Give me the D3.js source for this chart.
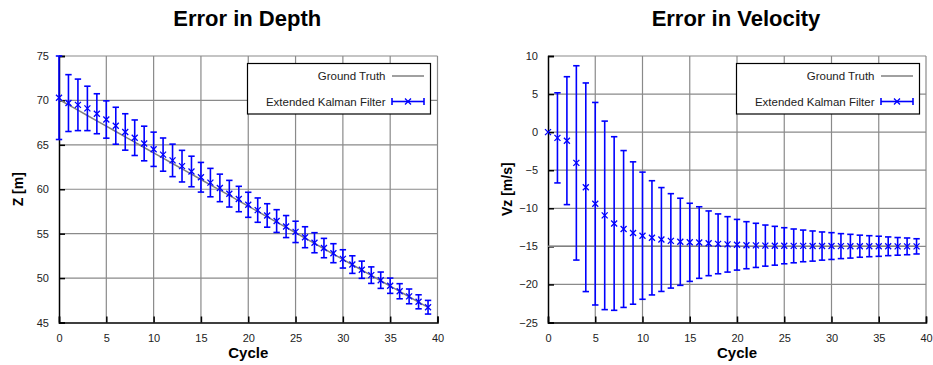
<!DOCTYPE html>
<html>
<head>
<meta charset="utf-8">
<script src="https://cdn.jsdelivr.net/npm/d3@7"></script>
<style>
  html, body { margin: 0; padding: 0; background: #fff; }
  svg { display: block; font-family: "Liberation Sans", Arial, sans-serif; }
</style>
</head>
<body>
<svg id="chart" width="933" height="365"></svg>
<script>
// Cycle index shared by both panels
const cycles = d3.range(0, 40);

// Depth: ground truth, filter estimate and its error half-width
const depthTruth = [70.1, 69.5, 68.9, 68.3, 67.7, 67.1, 66.5, 65.9, 65.3, 64.7,
  64.1, 63.5, 62.9, 62.3, 61.7, 61.1, 60.5, 59.9, 59.3, 58.7,
  58.1, 57.5, 56.9, 56.3, 55.7, 55.1, 54.5, 53.9, 53.3, 52.7,
  52.1, 51.5, 50.9, 50.3, 49.7, 49.1, 48.5, 47.9, 47.3, 46.7];
const depthEst = [70.3, 69.7, 69.5, 69.1, 68.5, 67.85, 67.15, 66.45, 65.8, 65.15,
  64.5, 63.9, 63.25, 62.6, 62.0, 61.35, 60.75, 60.15, 59.5, 58.9,
  58.25, 57.65, 57.05, 56.42, 55.8, 55.2, 54.6, 53.98, 53.38, 52.8,
  52.16, 51.52, 50.94, 50.33, 49.76, 49.14, 48.52, 47.94, 47.33, 46.72];
const depthErr = [4.7, 3.2, 2.9, 2.5, 2.25, 2.1, 2.08, 2.05, 2.0, 1.95,
  1.93, 1.87, 1.83, 1.78, 1.72, 1.67, 1.6, 1.55, 1.5, 1.43,
  1.41, 1.37, 1.32, 1.28, 1.24, 1.2, 1.18, 1.13, 1.09, 1.07,
  1.03, 0.99, 0.97, 0.93, 0.92, 0.86, 0.85, 0.83, 0.79, 0.77];

// Vertical velocity: ground truth, filter estimate and its error half-width
const velTruth = [-15, -15, -15, -15, -15, -15, -15, -15, -15, -15,
  -15, -15, -15, -15, -15, -15, -15, -15, -15, -15,
  -15, -15, -15, -15, -15, -15, -15, -15, -15, -15,
  -15, -15, -15, -15, -15, -15, -15, -15, -15, -15];
const velEst = [0.0, -0.75, -1.12, -4.04, -7.24, -9.4, -10.93, -12.0, -12.72, -13.25,
  -13.6, -13.88, -14.1, -14.28, -14.4, -14.47, -14.5, -14.6, -14.67, -14.74,
  -14.79, -14.85, -14.87, -14.9, -14.92, -14.92, -14.94, -14.94, -14.96, -14.96,
  -14.96, -14.97, -14.98, -14.98, -14.98, -14.99, -14.99, -15.0, -15.0, -15.0];
const velErr = [0.0, 5.92, 8.4, 12.76, 13.7, 13.3, 12.38, 11.4, 10.3, 9.35,
  8.35, 7.5, 6.82, 6.2, 5.72, 5.13, 4.7, 4.25, 3.93, 3.64,
  3.33, 3.09, 2.9, 2.7, 2.55, 2.37, 2.22, 2.08, 1.98, 1.85,
  1.76, 1.64, 1.56, 1.45, 1.38, 1.32, 1.23, 1.16, 1.1, 1.0];

// Axis tick values
const xTicks = [0, 5, 10, 15, 20, 25, 30, 35, 40];
const depthTicks = [45, 50, 55, 60, 65, 70, 75];
const velTicks = [-25, -20, -15, -10, -5, 0, 5, 10];

const legendLabels = ["Ground Truth", "Extended Kalman Filter"];

const svg = d3.select("#chart");

function panel(cfg) {
  const { left, right, top, bottom, yDomain, yTicks, title, yLabel, truth, est, err, legendX } = cfg;
  const x = d3.scaleLinear().domain([0, 40]).range([left, right]);
  const y = d3.scaleLinear().domain(yDomain).range([bottom, top]);
  const g = svg.append("g");

  // grid
  g.append("g").selectAll("line").data(xTicks.slice(1)).join("line")
    .attr("x1", d => x(d)).attr("x2", d => x(d))
    .attr("y1", top).attr("y2", bottom)
    .attr("stroke", "#8a8a8a").attr("stroke-width", 1.2);
  g.append("g").selectAll("line").data(yTicks.slice(1)).join("line")
    .attr("x1", left).attr("x2", right)
    .attr("y1", d => y(d)).attr("y2", d => y(d))
    .attr("stroke", "#8a8a8a").attr("stroke-width", 1.2);

  // axes (ticks pointing into the plot)
  const xAxis = d3.axisBottom(x).tickValues(xTicks).tickSize(-6).tickPadding(12).tickFormat(d3.format("d"));
  const yAxis = d3.axisLeft(y).tickValues(yTicks).tickSize(-6).tickPadding(10).tickFormat(d => d < 0 ? "\u2212" + Math.abs(d) : d);
  const gx = g.append("g").attr("transform", `translate(0,${bottom})`).call(xAxis);
  const gy = g.append("g").attr("transform", `translate(${left},0)`).call(yAxis);
  [gx, gy].forEach(a => {
    a.select(".domain").attr("stroke", "#000").attr("stroke-width", 1.5);
    a.selectAll(".tick line").attr("stroke", "#000").attr("stroke-width", 1.5);
    a.selectAll(".tick text").attr("font-size", 11).attr("fill", "#222")
      .attr("font-family", "Liberation Sans, Arial, sans-serif");
  });

  // ground truth line
  g.append("path").datum(cycles)
    .attr("fill", "none").attr("stroke", "#808080").attr("stroke-width", 1.5)
    .attr("d", d3.line().x(i => x(i)).y(i => y(truth[i])));

  // error bars
  const bars = g.append("g").attr("stroke", "#0000ff").attr("stroke-width", 1.6).attr("fill", "none");
  const withErr = cycles.filter(i => err[i] > 0);
  bars.selectAll("line.v").data(withErr).join("line").attr("class", "v")
    .attr("x1", i => x(i)).attr("x2", i => x(i))
    .attr("y1", i => y(est[i] + err[i])).attr("y2", i => y(est[i] - err[i]));
  bars.selectAll("line.t").data(withErr).join("line").attr("class", "t")
    .attr("x1", i => x(i) - 3.2).attr("x2", i => x(i) + 3.2)
    .attr("y1", i => y(est[i] + err[i])).attr("y2", i => y(est[i] + err[i]));
  bars.selectAll("line.b").data(withErr).join("line").attr("class", "b")
    .attr("x1", i => x(i) - 3.2).attr("x2", i => x(i) + 3.2)
    .attr("y1", i => y(est[i] - err[i])).attr("y2", i => y(est[i] - err[i]));

  // estimate markers
  const s = 3;
  bars.selectAll("path.m").data(cycles).join("path").attr("class", "m")
    .attr("stroke-width", 1.3)
    .attr("d", i => {
      const cx = x(i), cy = y(est[i]);
      return `M${cx - s},${cy - s}L${cx + s},${cy + s}M${cx - s},${cy + s}L${cx + s},${cy - s}`;
    });

  // title and axis labels
  const cx = (left + right) / 2;
  svg.append("text").attr("x", cx - 1).attr("y", 26).attr("text-anchor", "middle")
    .attr("font-size", 22).attr("font-weight", "bold").attr("fill", "#000").text(title);
  svg.append("text").attr("x", cx).attr("y", 358).attr("text-anchor", "middle")
    .attr("font-size", 15).attr("font-weight", "bold").attr("fill", "#000").text("Cycle");
  svg.append("text").attr("transform", `translate(${left - 36},${(top + bottom) / 2}) rotate(-90)`)
    .attr("text-anchor", "middle").attr("font-size", 14).attr("font-weight", "bold")
    .attr("fill", "#000").text(yLabel);

  // legend
  const lx = legendX, ly = 63.5, lw = 183, lh = 50.5;
  const lg = svg.append("g");
  lg.append("rect").attr("x", lx).attr("y", ly).attr("width", lw).attr("height", lh)
    .attr("fill", "#fff").attr("stroke", "#000").attr("stroke-width", 1.2);
  const textX = lx + 138, s0 = lx + 144.5, s1 = lx + 176.5;
  const rows = [ly + 12.5, ly + 38];
  lg.selectAll("text").data(legendLabels).join("text")
    .attr("x", textX).attr("y", (d, k) => rows[k] + 4).attr("text-anchor", "end")
    .attr("font-size", 11.5).attr("fill", "#222").text(d => d);
  lg.append("line").attr("x1", s0).attr("x2", s1).attr("y1", rows[0]).attr("y2", rows[0])
    .attr("stroke", "#808080").attr("stroke-width", 1.5);
  const eg = lg.append("g").attr("stroke", "#0000ff").attr("stroke-width", 1.6);
  eg.append("line").attr("x1", s0).attr("x2", s1).attr("y1", rows[1]).attr("y2", rows[1]);
  eg.append("line").attr("x1", s0).attr("x2", s0).attr("y1", rows[1] - 3.5).attr("y2", rows[1] + 3.5);
  eg.append("line").attr("x1", s1).attr("x2", s1).attr("y1", rows[1] - 3.5).attr("y2", rows[1] + 3.5);
  const mx = (s0 + s1) / 2;
  eg.append("path").attr("stroke-width", 1.3)
    .attr("d", `M${mx - s},${rows[1] - s}L${mx + s},${rows[1] + s}M${mx - s},${rows[1] + s}L${mx + s},${rows[1] - s}`);
}

panel({
  left: 59, right: 437.5, top: 56, bottom: 322.5,
  yDomain: [45, 75], yTicks: depthTicks,
  title: "Error in Depth", yLabel: "Z [m]",
  truth: depthTruth, est: depthEst, err: depthErr, legendX: 247.5
});

panel({
  left: 548, right: 926, top: 56, bottom: 322.5,
  yDomain: [-25, 10], yTicks: velTicks,
  title: "Error in Velocity", yLabel: "Vz [m/s]",
  truth: velTruth, est: velEst, err: velErr, legendX: 736.5
});
</script>
</body>
</html>
